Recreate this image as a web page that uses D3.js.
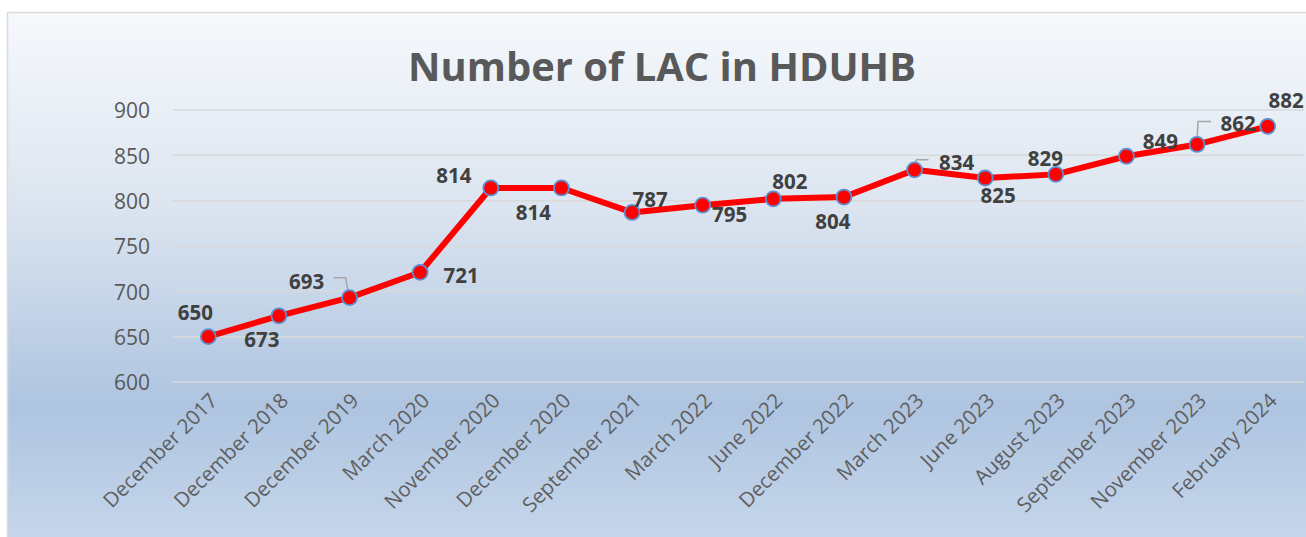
<!DOCTYPE html>
<html>
<head>
<meta charset="utf-8">
<script src="https://cdn.jsdelivr.net/npm/d3@7"></script>
<style>
  html, body { margin: 0; padding: 0; background: #ffffff; }
  svg { display: block; }
</style>
</head>
<body>
<svg id="chart" width="1306" height="537"></svg>
<script>
const title = "Number of LAC in HDUHB";
const categories = [
  "December 2017", "December 2018", "December 2019", "March 2020",
  "November 2020", "December 2020", "September 2021", "March 2022",
  "June 2022", "December 2022", "March 2023", "June 2023",
  "August 2023", "September 2023", "November 2023", "February 2024"
];
const values = [650, 673, 693, 721, 814, 814, 787, 795, 802, 804, 834, 825, 829, 849, 862, 882];
const yTicks = [600, 650, 700, 750, 800, 850, 900];

// label placement (offset of label centre / baseline from its point)
const labelOffsets = [
  [-13, -17], [-17, 31], [-43, -9], [41, 11], [-37, -5], [-28, 32],
  [18, -5], [27, 17], [16.5, -10], [-11, 32], [42, 0], [13, 25],
  [-10.5, -8], [34, -7], [41, -13], [18.5, -18]
];
// leader lines for some labels (relative to point)
const leaders = {
  2: [[-16, -20], [-4, -20], [-1, -4]],
  10: [[14, -10], [2, -10], [0, -4]],
  14: [[14, -23], [1, -23], [0, -5]]
};

const W = 1306, H = 537;
const svg = d3.select("#chart");

// background
const defs = svg.append("defs");
const grad = defs.append("linearGradient").attr("id", "bg")
  .attr("x1", 0).attr("y1", 0).attr("x2", 0).attr("y2", 1);
grad.append("stop").attr("offset", "0%").attr("stop-color", "#f6f9fc");
grad.append("stop").attr("offset", "35%").attr("stop-color", "#dce5f0");
grad.append("stop").attr("offset", "72%").attr("stop-color", "#aec4e0");
grad.append("stop").attr("offset", "100%").attr("stop-color", "#c9d9ec");

svg.append("rect").attr("x", 7.5).attr("y", 12.5)
  .attr("width", W + 10).attr("height", H + 10)
  .attr("fill", "url(#bg)").attr("stroke", "#d9d9d9").attr("stroke-width", 1.5);

const x = d3.scalePoint().domain(categories).range([173, 1303]).padding(0.5);
const y = d3.scaleLinear().domain([600, 900]).range([382, 110]);

// gridlines
svg.append("g").selectAll("line").data(yTicks).join("line")
  .attr("x1", 173).attr("x2", 1304)
  .attr("y1", d => y(d)).attr("y2", d => y(d))
  .attr("stroke", "#d9d9d9").attr("stroke-width", 1.5);

// y axis labels
const yAxis = svg.append("g").attr("transform", "translate(158,0)")
  .call(d3.axisLeft(y).tickValues(yTicks).tickSize(0).tickPadding(8));
yAxis.select(".domain").remove();
yAxis.selectAll("text")
  .attr("font-family", "'Open Sans', sans-serif")
  .attr("font-size", 21).attr("fill", "#595959").attr("dy", "0.38em");

// x axis labels
const xAxis = svg.append("g").attr("transform", "translate(0,392)")
  .call(d3.axisBottom(x).tickSize(0).tickPadding(0));
xAxis.select(".domain").remove();
xAxis.selectAll("text")
  .attr("font-family", "'Open Sans', sans-serif")
  .attr("font-size", 20.5).attr("fill", "#5f5f5f")
  .attr("text-anchor", "end")
  .attr("dy", 0)
  .attr("transform", "translate(10,10) rotate(-45)");

// title
const t = svg.append("text").text(title)
  .attr("x", 662).attr("y", 81)
  .attr("text-anchor", "middle")
  .attr("font-family", "'Open Sans', sans-serif")
  .attr("font-weight", "bold")
  .attr("font-size", 40).attr("fill", "#595959");
const tw = t.node().getComputedTextLength();
t.attr("font-size", 40 * 508 / tw);

// line
const line = d3.line().x((d, i) => x(categories[i])).y(d => y(d));
svg.append("path").datum(values)
  .attr("d", line).attr("fill", "none")
  .attr("stroke", "#ff0000").attr("stroke-width", 6)
  .attr("stroke-linejoin", "round");

// leader lines
Object.entries(leaders).forEach(([k, pts]) => {
  const i = +k;
  const px = x(categories[i]), py = y(values[i]);
  svg.append("polyline")
    .attr("points", pts.map(p => [px + p[0], py + p[1]].join(",")).join(" "))
    .attr("fill", "none").attr("stroke", "#a6a6a6").attr("stroke-width", 1.5);
});

// markers
svg.append("g").selectAll("circle").data(values).join("circle")
  .attr("cx", (d, i) => x(categories[i])).attr("cy", d => y(d))
  .attr("r", 7.5).attr("fill", "#ff0000")
  .attr("stroke", "#5b8fd0").attr("stroke-width", 1.8);

// data labels
svg.append("g").selectAll("text").data(values).join("text")
  .text(d => d)
  .attr("x", (d, i) => x(categories[i]) + labelOffsets[i][0])
  .attr("y", (d, i) => y(d) + labelOffsets[i][1])
  .attr("text-anchor", "middle")
  .attr("font-family", "'Open Sans', sans-serif")
  .attr("font-weight", "bold")
  .attr("font-size", 20.5).attr("fill", "#404040");
</script>
</body>
</html>
